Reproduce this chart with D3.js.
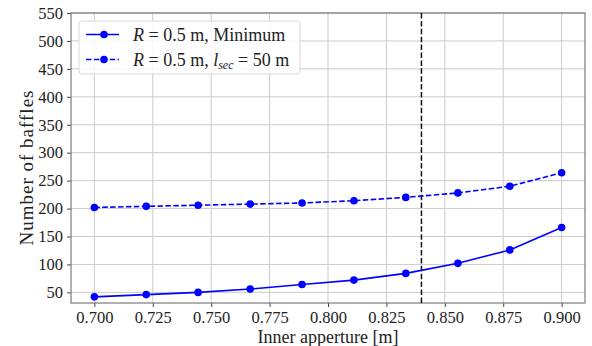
<!DOCTYPE html>
<html>
<head>
<meta charset="utf-8">
<script src="https://cdn.jsdelivr.net/npm/d3@7"></script>
<style>
  body { margin: 0; background: #fff; }
  svg text { font-family: "Liberation Serif", "DejaVu Serif", serif; fill: #222; }
</style>
</head>
<body>
<div id="chart"></div>
<script>
// Data
const apertures = [0.7, 0.7222, 0.7444, 0.7667, 0.7889, 0.8111, 0.8333, 0.8556, 0.8778, 0.9];
const minimumBaffles = [42, 46, 50, 56, 64, 72, 84, 102, 126, 166];
const secBaffles = [202, 204, 206, 208, 210, 214, 220, 228, 240, 264];
const xTicks = [0.700, 0.725, 0.750, 0.775, 0.800, 0.825, 0.850, 0.875, 0.900];
const yTicks = [50, 100, 150, 200, 250, 300, 350, 400, 450, 500, 550];
const markerX = 0.84;

const width = 592, height = 346;
const margin = { top: 13, right: 7, bottom: 43, left: 71 };
const w = width - margin.left - margin.right;
const h = height - margin.top - margin.bottom;

const svg = d3.select("#chart").append("svg")
    .attr("width", width)
    .attr("height", height);

const g = svg.append("g")
    .attr("transform", `translate(${margin.left},${margin.top})`);

// Scales
const x = d3.scaleLinear().domain([0.69, 0.91]).range([0, w]);
const y = d3.scaleLinear().domain([31, 550]).range([h, 0]);

// Grid
g.append("g").selectAll("line")
    .data(xTicks)
    .join("line")
    .attr("x1", d => x(d)).attr("x2", d => x(d))
    .attr("y1", 0).attr("y2", h)
    .attr("stroke", "#cbcbcb").attr("stroke-width", 1);

g.append("g").selectAll("line")
    .data(yTicks)
    .join("line")
    .attr("y1", d => y(d)).attr("y2", d => y(d))
    .attr("x1", 0).attr("x2", w)
    .attr("stroke", "#cbcbcb").attr("stroke-width", 1);

// Axes
const xAxis = g.append("g")
    .attr("transform", `translate(0,${h})`)
    .call(d3.axisBottom(x).tickValues(xTicks).tickFormat(d3.format(".3f")).tickSize(4).tickPadding(4));

const yAxis = g.append("g")
    .call(d3.axisLeft(y).tickValues(yTicks).tickSize(4).tickPadding(4));

[xAxis, yAxis].forEach(a => {
    a.select(".domain").remove();
    a.selectAll(".tick line").attr("stroke", "#444");
    a.selectAll(".tick text").attr("font-size", "16.5px").attr("fill", "#222")
        .style("font-family", "'Liberation Serif', serif");
});

// Frame
g.append("rect")
    .attr("width", w).attr("height", h)
    .attr("fill", "none")
    .attr("stroke", "#7a7a7a").attr("stroke-width", 1.2);

// Vertical marker
g.append("line")
    .attr("x1", x(markerX)).attr("x2", x(markerX))
    .attr("y1", 0).attr("y2", h)
    .attr("stroke", "#111").attr("stroke-width", 1.5)
    .attr("stroke-dasharray", "5.5,2.4");

// Series
const series = [
    { values: minimumBaffles, dash: null },
    { values: secBaffles, dash: "5.5,2.4" }
];

const line = d3.line()
    .x((d, i) => x(apertures[i]))
    .y(d => y(d));

series.forEach(s => {
    g.append("path")
        .datum(s.values)
        .attr("d", line)
        .attr("fill", "none")
        .attr("stroke", "#0000ff")
        .attr("stroke-width", 1.6)
        .attr("stroke-dasharray", s.dash);

    g.append("g").selectAll("circle")
        .data(s.values)
        .join("circle")
        .attr("cx", (d, i) => x(apertures[i]))
        .attr("cy", d => y(d))
        .attr("r", 3.8)
        .attr("fill", "#0000ff");
});

// Legend
const legend = svg.append("g").attr("transform", "translate(79,21)");
legend.append("rect")
    .attr("width", 221).attr("height", 53)
    .attr("rx", 3)
    .attr("fill", "#fff").attr("fill-opacity", 0.85)
    .attr("stroke", "#d8d8d8");

const legendRows = [
    { dash: null, y: 13.5, parts: [["i", "R"], ["n", " = 0.5 m, Minimum"]] },
    { dash: "5.5,2.4", y: 38.5, parts: [["i", "R"], ["n", " = 0.5 m, "], ["i", "l"], ["sub", "sec"], ["n", " = 50 m"]] }
];

legendRows.forEach(r => {
    legend.append("line")
        .attr("x1", 7).attr("x2", 40)
        .attr("y1", r.y).attr("y2", r.y)
        .attr("stroke", "#0000ff").attr("stroke-width", 1.6)
        .attr("stroke-dasharray", r.dash);
    legend.append("circle")
        .attr("cx", 25).attr("cy", r.y).attr("r", 3.8)
        .attr("fill", "#0000ff");
    const t = legend.append("text")
        .attr("x", 54).attr("y", r.y + 6)
        .attr("font-size", "18px")
        .style("white-space", "pre");
    r.parts.forEach(p => {
        const ts = t.append("tspan").text(p[1]);
        if (p[0] === "i") ts.attr("font-style", "italic");
        if (p[0] === "sub") ts.attr("font-style", "italic").attr("font-size", "12px").attr("dy", 3);
        if (p[0] === "n" && p[1].startsWith(" = 50")) ts.attr("dy", -3);
    });
});

// Axis labels
svg.append("text")
    .attr("x", margin.left + w / 2).attr("y", 343)
    .attr("text-anchor", "middle")
    .attr("font-size", "18px")
    .text("Inner apperture [m]");

svg.append("text")
    .attr("transform", `translate(33,168) rotate(-90)`)
    .attr("text-anchor", "middle")
    .attr("font-size", "19px")
    .attr("textLength", 155)
    .attr("lengthAdjust", "spacing")
    .text("Number of baffles");
</script>
</body>
</html>
